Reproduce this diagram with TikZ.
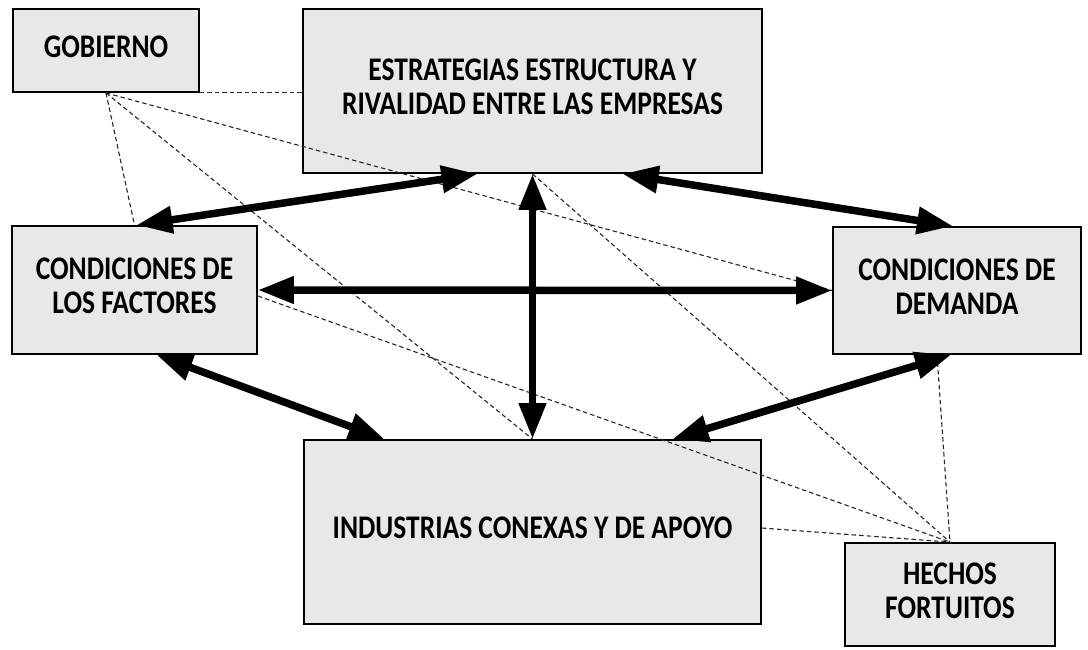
\documentclass[tikz,border=0pt]{standalone}
\usepackage{fontspec}
\setmainfont{Carlito}
\usetikzlibrary{arrows.meta}
\newcommand\boxtxt[1]{\scalebox{1}[1.2]{\begin{tabular}{@{}c@{}}#1\end{tabular}}}
\begin{document}
\begin{tikzpicture}[x=1pt,y=-1pt,
  boxnode/.style={draw=black, line width=1.8pt, fill=black!9, rectangle, inner sep=0pt,
    font=\fontsize{27.5}{28}\selectfont\bfseries},
  thickarrow/.style={line width=7.5pt, black, {Triangle[length=36pt,width=26pt]}-{Triangle[length=36pt,width=26pt]}},
  dashlink/.style={line width=1.1pt, black!85, dash pattern=on 4.5pt off 3pt}
]
\useasboundingbox (0,0) rectangle (1088,649);

\node[boxnode, minimum width=186pt, minimum height=83pt] (gob) at (106,50.5) {\boxtxt{GOBIERNO}};
\node[boxnode, minimum width=459pt, minimum height=164pt] (est) at (532.5,91) {\boxtxt{ESTRATEGIAS ESTRUCTURA Y\\RIVALIDAD ENTRE LAS EMPRESAS}};
\node[boxnode, minimum width=245pt, minimum height=128pt] (fac) at (134.5,290) {\raisebox{24pt}{\boxtxt{CONDICIONES DE\\LOS FACTORES}}};
\node[boxnode, minimum width=248pt, minimum height=127pt] (dem) at (957,290.5) {\boxtxt{CONDICIONES DE\\DEMANDA}};
\node[boxnode, minimum width=457pt, minimum height=184pt] (ind) at (532.5,532) {\boxtxt{INDUSTRIAS CONEXAS Y DE APOYO}};
\node[boxnode, minimum width=210pt, minimum height=103pt] (hec) at (950,594.5) {\boxtxt{HECHOS\\FORTUITOS}};

% dashed links
\draw[dashlink] (gob.south east) -- (est.west |- gob.south east);
\draw[dashlink] (gob.south) -- (dem.west);
\draw[dashlink] (gob.south) -- (ind.north);
\draw[dashlink] (gob.south) -- (fac.north);
\draw[dashlink] (est.south) -- (hec.north);
\draw[dashlink] ([yshift=-6pt]fac.east) -- (hec.north);
\draw[dashlink] ([yshift=4pt]ind.east) -- (hec.north);
\draw[dashlink] ([xshift=-20pt]dem.south) -- (hec.north);

% thick double arrows
\draw[thickarrow] ([xshift=2pt]fac.north) -- ([xshift=-55pt]est.south);
\draw[thickarrow] ([xshift=90pt]est.south) -- ([xshift=-4pt]dem.north);
\draw[thickarrow] (est.south) -- (ind.north);
\draw[thickarrow] (fac.east) -- (dem.west);
\draw[thickarrow] ([xshift=22pt]fac.south) -- ([xshift=-148pt]ind.north);
\draw[thickarrow] ([xshift=-6pt]dem.south) -- ([xshift=140pt]ind.north);
\end{tikzpicture}
\end{document}
